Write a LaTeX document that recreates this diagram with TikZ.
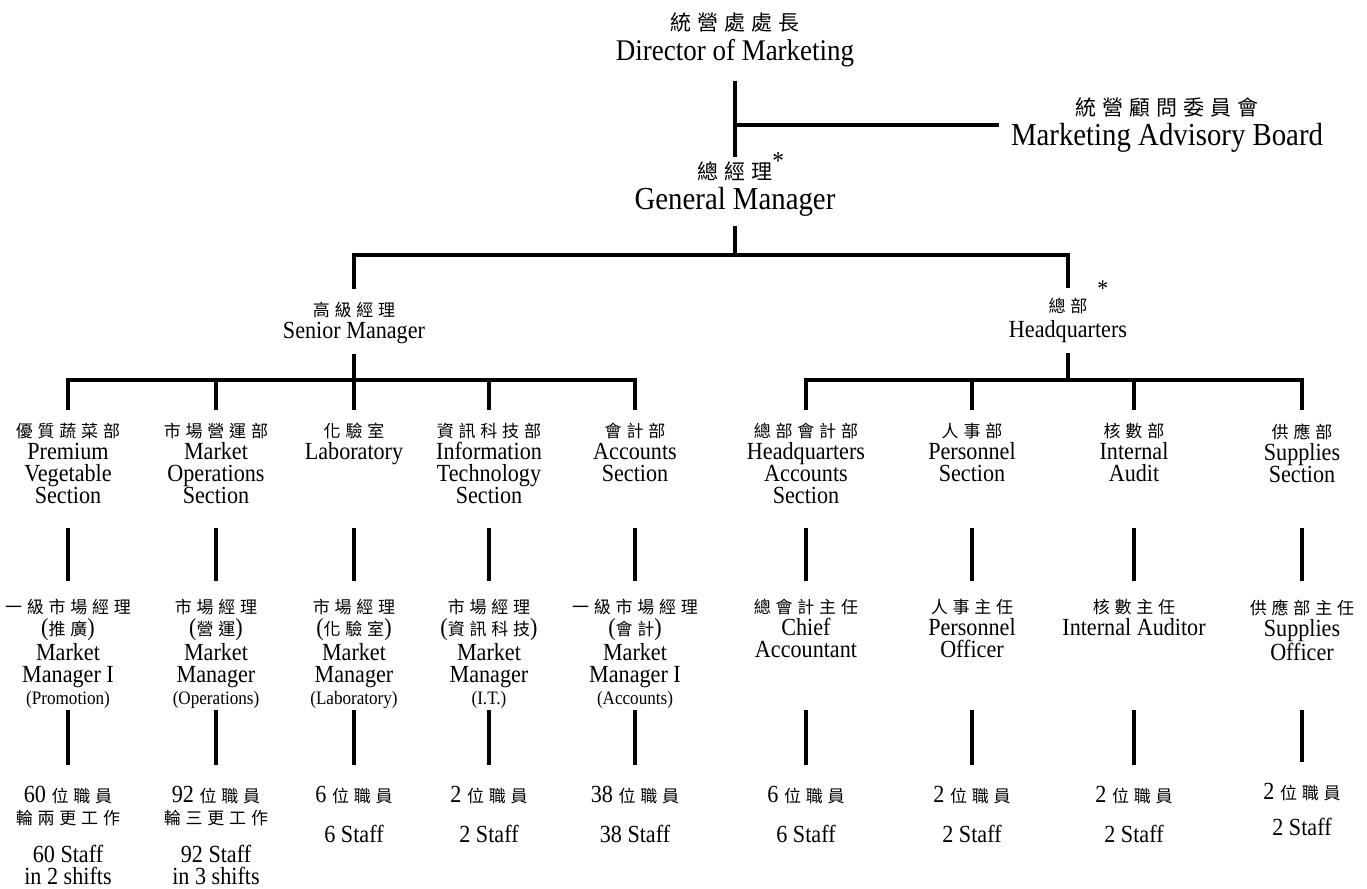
\documentclass[tikz,border=0pt]{standalone}
\usepackage{fontspec}
\setmainfont{Liberation Serif}[FakeStretch=0.9]
\newfontfamily\cjk{Noto Sans CJK TC}[LetterSpace=28]
\newcommand{\zh}[1]{{\cjk\fontsize{8.5}{11}\selectfont #1}}
\newcommand{\zhbig}[1]{{\cjk\fontsize{10.5}{15}\selectfont #1}}
\newcommand{\note}[1]{{\fontsize{9.5}{8}\selectfont #1}}

\tikzset{
    title/.style={align=center, inner sep=0pt, anchor=north, font=\fontsize{15}{15}\selectfont},
    unit/.style={align=center, inner sep=0pt, anchor=north, font=\fontsize{12.3}{11}\selectfont},
    link/.style={line width=1.7pt},
}

\begin{document}
\begin{tikzpicture}[x=0.5pt, y=-0.5pt]
    \useasboundingbox (0,0) rectangle (1367,889);

    % rows of the bars
    \coordinate (brk) at (735,125);
    \coordinate (gbar) at (735,255);
    \coordinate (lbar) at (354,380);
    \coordinate (rbar) at (1068,380);
    \coordinate (row2) at (0,528);
    \coordinate (row3) at (0,710);

    \begin{scope}[every node/.style={title}]
        \node (dir) at (735,12) {\zhbig{統營處處長}\\Director of Marketing};
        \node (board) at (1167,97) {\zhbig{統營顧問委員會}\\\fontsize{16}{16.5}\selectfont Marketing Advisory Board};
        \node (gm) at (735,161) {\zhbig{總經理}\rlap{\smash{\raisebox{0.7ex}{\fontsize{13}{13}\selectfont *}}}\\\fontsize{16}{17}\selectfont General Manager};
    \end{scope}

    \begin{scope}[every node/.style={unit}]
        \node (sm) at (354,302) {\zh{高級經理}\\Senior Manager};
        \node (hq) at (1068,298) {\zh{總部}\rlap{\smash{\raisebox{1.4ex}{\hspace{5pt}\fontsize{12}{12}\selectfont *}}}\\[1.5pt]Headquarters};
        % sections
        \node (pv) at (68,423) {\zh{優質蔬菜部}\\Premium\\Vegetable\\Section};
        \node (mo) at (216,423) {\zh{市場營運部}\\Market\\Operations\\Section};
        \node (lab) at (354,423) {\zh{化驗室}\\Laboratory};
        \node (it) at (489,423) {\zh{資訊科技部}\\Information\\Technology\\Section};
        \node (acc) at (635,423) {\zh{會計部}\\Accounts\\Section};
        \node (hqa) at (806,423) {\zh{總部會計部}\\Headquarters\\Accounts\\Section};
        \node (per) at (972,423) {\zh{人事部}\\Personnel\\Section};
        \node (aud) at (1134,423) {\zh{核數部}\\Internal\\Audit};
        \node (sup) at (1302,423) {\zh{供應部}\\Supplies\\Section};
        % managers
        \node (pv-mgr) at (68,599) {\zh{一級市場經理}\\(\zh{推廣})\\Market\\Manager I\\\note{(Promotion)}};
        \node (mo-mgr) at (216,599) {\zh{市場經理}\\(\zh{營運})\\Market\\Manager\\\note{(Operations)}};
        \node (lab-mgr) at (354,599) {\zh{市場經理}\\(\zh{化驗室})\\Market\\Manager\\\note{(Laboratory)}};
        \node (it-mgr) at (489,599) {\zh{市場經理}\\(\zh{資訊科技})\\Market\\Manager\\\note{(I.T.)}};
        \node (acc-mgr) at (635,599) {\zh{一級市場經理}\\(\zh{會計})\\Market\\Manager I\\\note{(Accounts)}};
        \node (hqa-mgr) at (806,599) {\zh{總會計主任}\\Chief\\Accountant};
        \node (per-mgr) at (972,599) {\zh{人事主任}\\Personnel\\Officer};
        \node (aud-mgr) at (1134,599) {\zh{核數主任}\\Internal Auditor};
        \node (sup-mgr) at (1302,599) {\zh{供應部主任}\\Supplies\\Officer};
        % staff
        \node (pv-stf) at (68,786) {60 \zh{位職員}\\\zh{輪兩更工作}\\[8pt]60 Staff\\in 2 shifts};
        \node (mo-stf) at (216,786) {92 \zh{位職員}\\\zh{輪三更工作}\\[8pt]92 Staff\\in 3 shifts};
        \node (lab-stf) at (354,786) {6 \zh{位職員}\\[9pt]6 Staff};
        \node (it-stf) at (489,786) {2 \zh{位職員}\\[9pt]2 Staff};
        \node (acc-stf) at (635,786) {38 \zh{位職員}\\[9pt]38 Staff};
        \node (hqa-stf) at (806,786) {6 \zh{位職員}\\[9pt]6 Staff};
        \node (per-stf) at (972,786) {2 \zh{位職員}\\[9pt]2 Staff};
        \node (aud-stf) at (1134,786) {2 \zh{位職員}\\[9pt]2 Staff};
        \node (sup-stf) at (1302,783) {2 \zh{位職員}\\[7pt]2 Staff};
    \end{scope}

    \begin{scope}[every path/.style={link}]
        \draw [shorten <=7pt, shorten >=2pt] (dir.south) -- (gm.north);
        \draw [shorten >=6pt] (brk) -- (brk -| board.west);
        \draw [shorten <=5pt] (gm.south) -- (gbar);
        \draw [shorten <=6.5pt, shorten >=5pt] (sm.north) |- (gbar) -| (hq.north);
        \draw [shorten <=5pt, shorten >=6.5pt] (sm.south) -- (lab.north);
        \draw [shorten <=6.5pt, shorten >=6.5pt] (pv.north) |- (lbar) -| (acc.north);
        \draw [shorten >=6.5pt] (mo |- lbar) -- (mo.north);
        \draw [shorten >=6.5pt] (it |- lbar) -- (it.north);
        \draw [shorten <=5pt] (hq.south) -- (rbar);
        \draw [shorten <=6.5pt, shorten >=6.5pt] (hqa.north) |- (rbar) -| (sup.north);
        \draw [shorten >=6.5pt] (per |- rbar) -- (per.north);
        \draw [shorten >=6.5pt] (aud |- rbar) -- (aud.north);
        \foreach \n in {pv,mo,lab,it,acc,hqa,per,aud,sup} {
            \draw [shorten >=9pt] (\n |- row2) -- (\n-mgr.north);
            \draw [shorten >=10.5pt] (\n |- row3) -- (\n-stf.north);
        }
    \end{scope}
\end{tikzpicture}
\end{document}
